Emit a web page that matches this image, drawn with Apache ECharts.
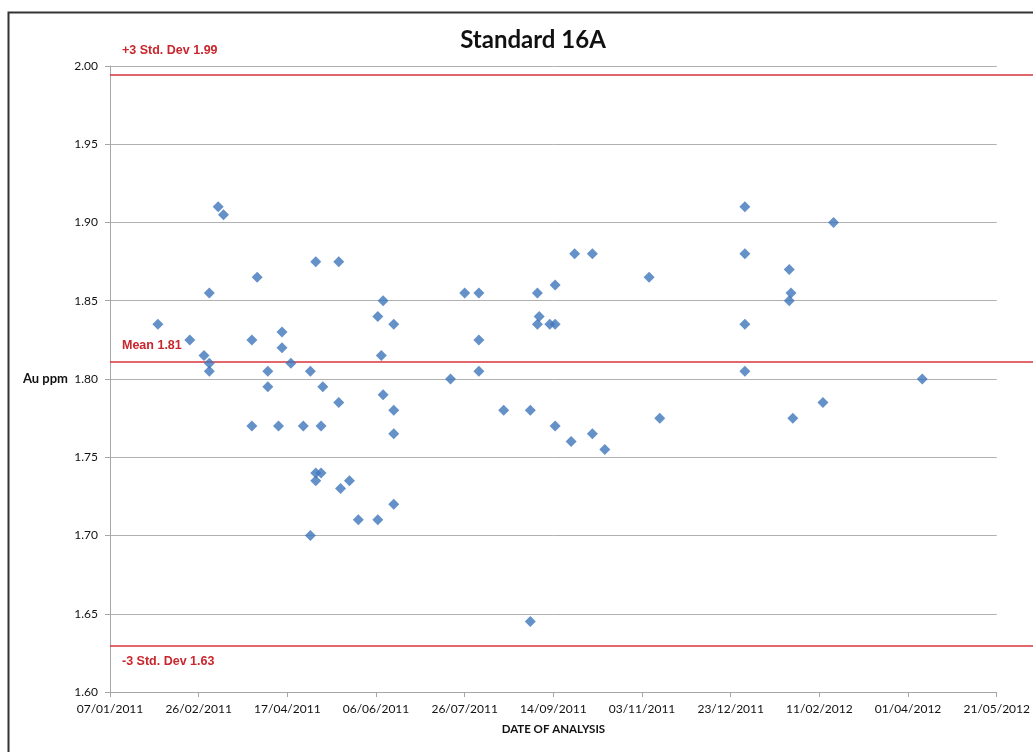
<!DOCTYPE html>
<html>
<head>
<meta charset="utf-8">
<script src="https://cdn.jsdelivr.net/npm/echarts@6/dist/echarts.min.js"></script>
<style>
  html, body { margin: 0; padding: 0; background: #ffffff; }
  #chart { width: 1033px; height: 752px; }
</style>
</head>
<body>
<div id="chart"></div>
<script>
// ---- data ----
const analysisDates = [
  '2011-02-03','2011-02-21','2011-03-01','2011-03-04','2011-03-04','2011-03-04','2011-03-09','2011-03-12',
  '2011-03-28','2011-03-28','2011-03-31','2011-04-06','2011-04-06','2011-04-12','2011-04-14','2011-04-14',
  '2011-04-19','2011-04-26','2011-04-30','2011-04-30','2011-05-03','2011-05-03','2011-05-03','2011-05-06',
  '2011-05-06','2011-05-07','2011-05-16','2011-05-16','2011-05-17','2011-05-22','2011-05-27','2011-06-07',
  '2011-06-07','2011-06-09','2011-06-10','2011-06-10','2011-06-16','2011-06-16','2011-06-16','2011-06-16',
  '2011-07-18','2011-07-26','2011-08-03','2011-08-03','2011-08-03','2011-08-17','2011-09-01','2011-09-01',
  '2011-09-05','2011-09-06','2011-09-05','2011-09-12','2011-09-15','2011-09-15','2011-09-15','2011-09-24',
  '2011-09-26','2011-10-06','2011-10-06','2011-10-13','2011-11-07','2011-11-13','2011-12-31','2011-12-31',
  '2011-12-31','2011-12-31','2012-01-25','2012-01-25','2012-01-26','2012-01-27','2012-02-13','2012-02-19',
  '2012-04-09'
];
const auPpm = [
  1.835,1.825,1.815,1.81,1.805,1.855,1.91,1.905,
  1.825,1.77,1.865,1.805,1.795,1.77,1.83,1.82,
  1.81,1.77,1.805,1.70,1.875,1.74,1.735,1.74,
  1.77,1.795,1.875,1.785,1.73,1.735,1.71,1.84,
  1.71,1.815,1.79,1.85,1.835,1.78,1.765,1.72,
  1.80,1.855,1.855,1.825,1.805,1.78,1.78,1.645,
  1.855,1.84,1.835,1.835,1.835,1.86,1.77,1.76,
  1.88,1.88,1.765,1.755,1.865,1.775,1.91,1.88,
  1.835,1.805,1.87,1.85,1.855,1.775,1.785,1.90,
  1.80
];
const limitNames = ['+3 Std. Dev 1.99', 'Mean 1.81', '-3 Std. Dev 1.63'];
const limitValues = [1.9947, 1.8113, 1.6294];
const xRange = ['2011-01-07', '2012-05-21'];   // axis min / max dates
const xTickDays = 50;
const yRange = [1.60, 2.00];
const yTick = 0.05;

// Excel-style serial day numbers (axis min is then a multiple of the interval)
function toSerial(iso) {
  const p = iso.split('-').map(Number);
  return Math.round(Date.UTC(p[0], p[1] - 1, p[2]) / 86400000) + 25569;
}
function fmtSerial(s) {
  const d = new Date((Math.round(s) - 25569) * 86400000);
  const dd = String(d.getUTCDate()).padStart(2, '0');
  const mm = String(d.getUTCMonth() + 1).padStart(2, '0');
  return dd + '/' + mm + '/' + d.getUTCFullYear();
}
const points = analysisDates.map((d, i) => [toSerial(d), auPpm[i]]);

const labelFont = 'Lato';
const gridTop = 66, gridBottom = 60, gridLeft = 110;

const chart = echarts.init(document.getElementById('chart'), null, { renderer: 'canvas' });
chart.setOption({
  backgroundColor: '#ffffff',
  animation: false,
  title: {
    text: 'Standard 16A',
    left: 528, top: 23, textAlign: 'center',
    textStyle: { fontFamily: labelFont, fontWeight: 'bold', fontSize: 24, color: '#111' }
  },
  graphic: [{
    type: 'rect', left: 6, top: 10, silent: true,
    shape: { width: 1040, height: 760 },
    style: { fill: 'none', stroke: '#333', lineWidth: 2 }
  }],
  grid: [
    { left: gridLeft, right: 0, top: gridTop, bottom: gridBottom },
    { left: gridLeft, right: 36, top: gridTop, bottom: gridBottom }
  ],
  xAxis: [
    { gridIndex: 0, type: 'value', min: 0, max: 1, show: false },
    {
      gridIndex: 1, type: 'value',
      min: toSerial(xRange[0]), max: toSerial(xRange[1]), interval: xTickDays,
      name: 'DATE OF ANALYSIS', nameLocation: 'middle', nameGap: 31,
      nameTextStyle: { fontFamily: labelFont, fontWeight: 'bold', fontSize: 11.5, color: '#111' },
      axisLine: { show: true, lineStyle: { color: '#a6a6a6', width: 1 } },
      axisTick: { show: true, length: 5, lineStyle: { color: '#a6a6a6' } },
      axisLabel: { formatter: fmtSerial, margin: 11, fontFamily: labelFont, fontSize: 12, color: '#111' },
      splitLine: { show: false }
    }
  ],
  yAxis: [
    { gridIndex: 0, type: 'value', min: yRange[0], max: yRange[1], show: false },
    {
      gridIndex: 1, type: 'value', min: yRange[0], max: yRange[1], interval: yTick,
      name: 'Au ppm', nameLocation: 'middle', nameRotate: 0, nameGap: 42,
      nameTextStyle: { fontFamily: labelFont, fontWeight: 'bold', fontSize: 13, color: '#111' },
      axisLine: { show: true, lineStyle: { color: '#a6a6a6', width: 1 } },
      axisTick: { show: true, length: 5, lineStyle: { color: '#a6a6a6' } },
      axisLabel: { formatter: v => v.toFixed(2), margin: 12, fontFamily: labelFont, fontSize: 12, color: '#111' },
      splitLine: { show: true, lineStyle: { color: '#b0b0b0', width: 1 } }
    }
  ],
  series: [
    {
      type: 'line', xAxisIndex: 0, yAxisIndex: 0, data: [], z: 2,
      markLine: {
        silent: true, symbol: 'none', animation: false, precision: 4,
        lineStyle: { color: '#d9343c', width: 1.5, type: 'solid' },
        data: limitValues.map((v, i) => ({
          yAxis: v,
          label: {
            show: true,
            formatter: limitNames[i],
            position: i === 2 ? 'insideStartBottom' : 'insideStartTop',
            distance: i === 0 ? [12, 17] : [12, 9],
            fontFamily: 'Liberation Sans', fontWeight: 'bold', fontSize: 12.5, color: '#c9262d'
          }
        }))
      }
    },
    {
      type: 'scatter', xAxisIndex: 1, yAxisIndex: 1, z: 5,
      symbol: 'diamond', symbolSize: 11,
      itemStyle: { color: '#3e76bc' },
      data: points
    }
  ]
});
</script>
</body>
</html>
